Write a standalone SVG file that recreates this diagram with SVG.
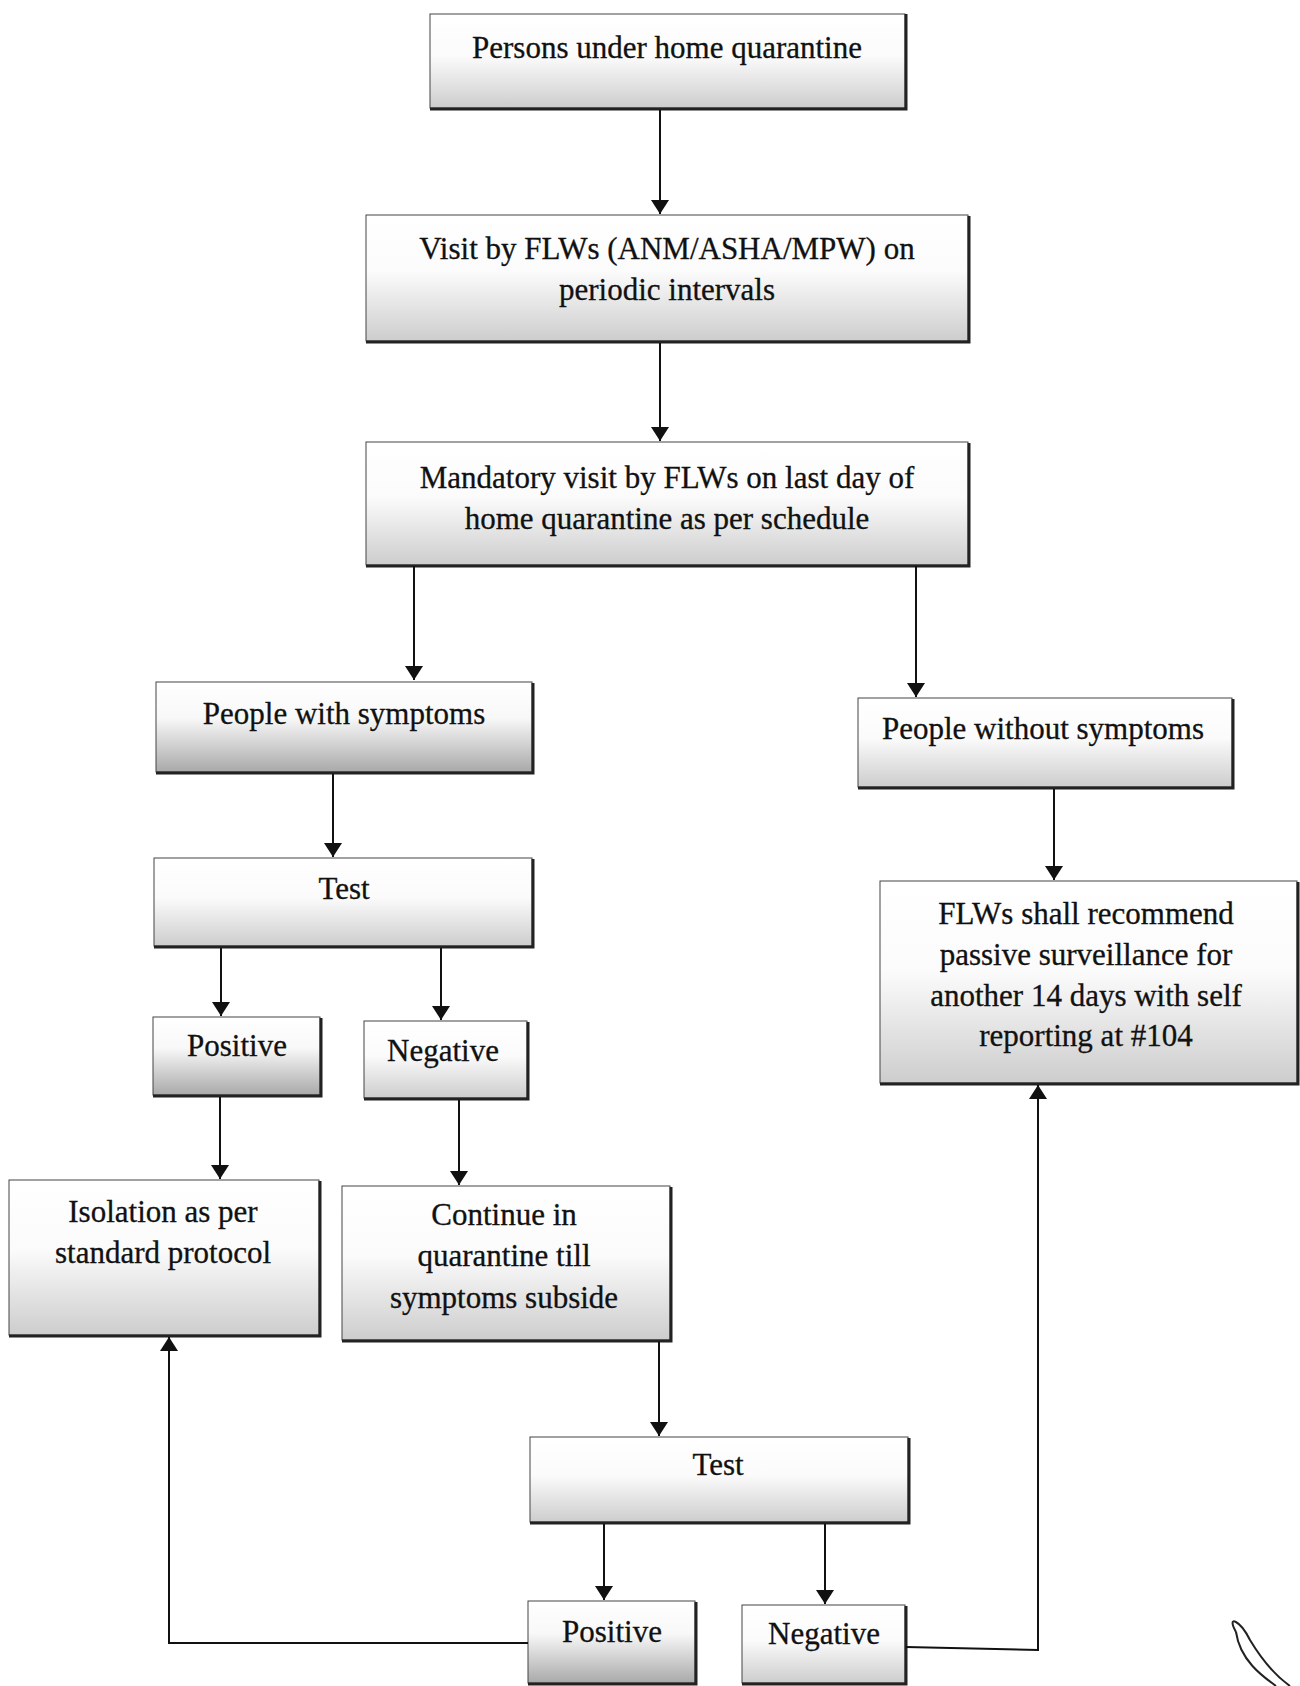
<svg xmlns="http://www.w3.org/2000/svg" width="1300" height="1686" viewBox="0 0 1300 1686">
<defs>
<linearGradient id="g" x1="0" y1="0" x2="0" y2="1">
<stop offset="0" stop-color="#ffffff"/><stop offset="0.45" stop-color="#fbfbfb"/><stop offset="1" stop-color="#cdcdcd"/>
</linearGradient>
<linearGradient id="gd" x1="0" y1="0" x2="0" y2="1">
<stop offset="0" stop-color="#ffffff"/><stop offset="0.4" stop-color="#f8f8f8"/><stop offset="1" stop-color="#a9a9a9"/>
</linearGradient>
<marker id="ah" viewBox="0 0 14 18" refX="14" refY="9" markerWidth="14" markerHeight="18" markerUnits="userSpaceOnUse" orient="auto">
<path d="M0,0 L14,9 L0,18 Z" fill="#111"/>
</marker>
</defs>
<style>
.box{fill:url(#g);stroke:#444;stroke-width:1}
.dark{fill:url(#gd)}
.sh{fill:none;stroke:#222;stroke-width:3}
.t{font-family:"Liberation Serif","Times New Roman",serif;font-size:31px;fill:#111;text-anchor:middle;stroke:#111;stroke-width:0.3}
.c{fill:none;stroke:#111;stroke-width:2}
</style>
<rect width="1300" height="1686" fill="#ffffff"/>
<g id="n1"><rect class="box" x="430" y="14" width="475" height="94"/><path class="sh" d="M430,109 H906 V14"/><text class="t" x="667" y="58">Persons under home quarantine</text></g>
<g id="n2"><rect class="box" x="366" y="215" width="602" height="126"/><path class="sh" d="M366,342 H969 V216"/><text class="t" x="667" y="259">Visit by FLWs (ANM/ASHA/MPW) on</text><text class="t" x="667" y="300">periodic intervals</text></g>
<g id="n3"><rect class="box" x="366" y="442" width="602" height="123"/><path class="sh" d="M366,566 H969 V443"/><text class="t" x="667" y="488">Mandatory visit by FLWs on last day of</text><text class="t" x="667" y="529">home quarantine as per schedule</text></g>
<g id="n4"><rect class="box dark" x="156" y="682" width="376" height="90"/><path class="sh" d="M156,773 H533 V683"/><text class="t" x="344" y="724">People with symptoms</text></g>
<g id="n5"><rect class="box" x="858" y="698" width="374" height="89"/><path class="sh" d="M858,788 H1233 V699"/><text class="t" x="1043" y="739">People without symptoms</text></g>
<g id="n6"><rect class="box" x="154" y="858" width="378" height="88"/><path class="sh" d="M154,947 H533 V859"/><text class="t" x="344" y="899">Test</text></g>
<g id="n7"><rect class="box dark" x="153" y="1017" width="167" height="78"/><path class="sh" d="M153,1096 H321 V1018"/><text class="t" x="237" y="1056">Positive</text></g>
<g id="n8"><rect class="box" x="364" y="1021" width="163" height="77"/><path class="sh" d="M364,1099 H528 V1022"/><text class="t" x="443" y="1061">Negative</text></g>
<g id="n9"><rect class="box" x="880" y="881" width="417" height="202"/><path class="sh" d="M880,1084 H1298 V882"/><text class="t" x="1086" y="924">FLWs shall recommend</text><text class="t" x="1086" y="965">passive surveillance for</text><text class="t" x="1086" y="1006">another 14 days with self</text><text class="t" x="1086" y="1046">reporting at #104</text></g>
<g id="n10"><rect class="box" x="9" y="1180" width="310" height="155"/><path class="sh" d="M9,1336 H320 V1181"/><text class="t" x="163" y="1222">Isolation as per</text><text class="t" x="163" y="1263">standard protocol</text></g>
<g id="n11"><rect class="box" x="342" y="1186" width="328" height="154"/><path class="sh" d="M342,1341 H671 V1187"/><text class="t" x="504" y="1225">Continue in</text><text class="t" x="504" y="1266">quarantine till</text><text class="t" x="504" y="1308">symptoms subside</text></g>
<g id="n12"><rect class="box" x="530" y="1437" width="378" height="85"/><path class="sh" d="M530,1523 H909 V1438"/><text class="t" x="718" y="1475">Test</text></g>
<g id="n13"><rect class="box dark" x="528" y="1601" width="167" height="82"/><path class="sh" d="M528,1684 H696 V1602"/><text class="t" x="612" y="1642">Positive</text></g>
<g id="n14"><rect class="box" x="742" y="1605" width="163" height="78"/><path class="sh" d="M742,1684 H906 V1606"/><text class="t" x="824" y="1644">Negative</text></g>
<g id="connectors">
<path class="c" marker-end="url(#ah)" d="M660,110 V214"/>
<path class="c" marker-end="url(#ah)" d="M660,343 V441"/>
<path class="c" marker-end="url(#ah)" d="M414,566 V680"/>
<path class="c" marker-end="url(#ah)" d="M916,566 V697"/>
<path class="c" marker-end="url(#ah)" d="M333,774 V857"/>
<path class="c" marker-end="url(#ah)" d="M1054,789 V880"/>
<path class="c" marker-end="url(#ah)" d="M221,948 V1016"/>
<path class="c" marker-end="url(#ah)" d="M441,948 V1020"/>
<path class="c" marker-end="url(#ah)" d="M220,1097 V1179"/>
<path class="c" marker-end="url(#ah)" d="M459,1100 V1185"/>
<path class="c" marker-end="url(#ah)" d="M659,1342 V1436"/>
<path class="c" marker-end="url(#ah)" d="M604,1524 V1600"/>
<path class="c" marker-end="url(#ah)" d="M825,1524 V1604"/>
<path class="c" marker-end="url(#ah)" d="M528,1643 H169 V1337"/>
<path class="c" marker-end="url(#ah)" d="M906,1647 L1038,1650 V1085"/>
</g>
<path d="M1236,1632 C1226,1614 1240,1620 1250,1640 C1262,1660 1276,1676 1290,1686 M1236,1632 C1240,1660 1262,1676 1276,1686" fill="none" stroke="#222" stroke-width="2"/>
</svg>
